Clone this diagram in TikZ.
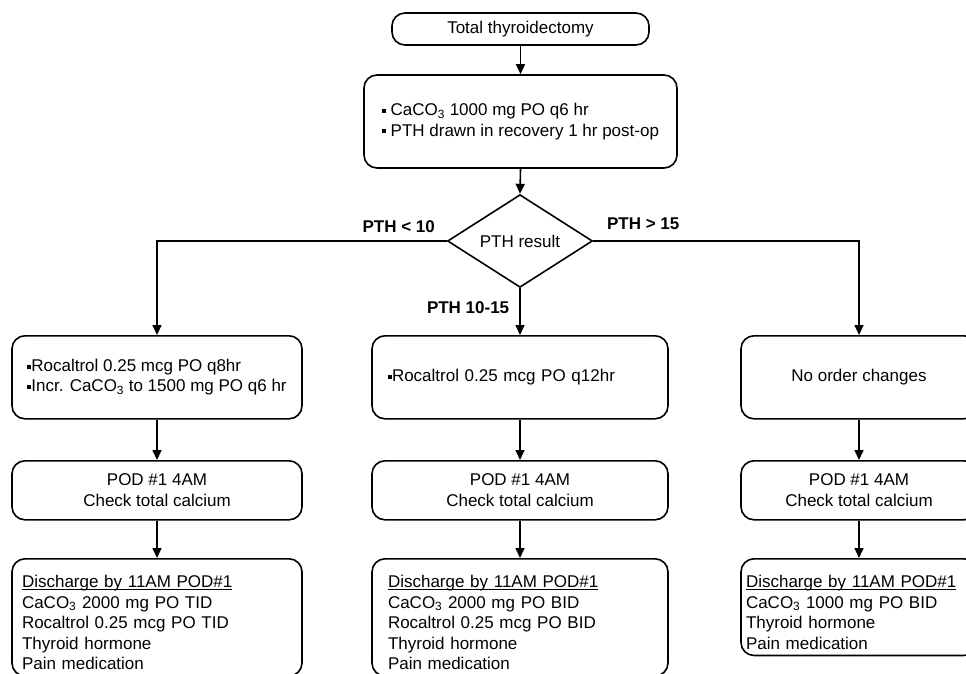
\documentclass[tikz,border=0pt]{standalone}
\usepackage{fontspec}
\setmainfont{Liberation Sans}
\usetikzlibrary{shapes.geometric,arrows.meta,positioning}
\newcommand{\sqbullet}{\raisebox{0.32ex}{\rule{4pt}{4pt}}}
\newcommand{\firstline}{\rule{0pt}{23pt}}
\newsavebox{\ulinebox}
\newcommand{\ulined}[1]{\sbox{\ulinebox}{#1}\rlap{\rule[-2.2pt]{\wd\ulinebox}{1pt}}\usebox{\ulinebox}}
\begin{document}
\begin{tikzpicture}[x=1pt,y=-1pt,line width=1.6pt,>={Triangle[length=10pt,width=9pt]},
flowbox/.style={draw,rectangle,rounded corners=13pt,inner sep=6pt,font=\fontsize{17}{20.5}\selectfont},
listbox/.style={flowbox,anchor=north,align=left,inner ysep=6pt},
decision/.style={draw,diamond,minimum width=145pt,minimum height=82pt,inner sep=0pt,font=\fontsize{17}{20}\selectfont},
branch/.style={inner sep=0pt,font=\bfseries\fontsize{17}{20}\selectfont}]
\useasboundingbox (0,0) rectangle (966,674);
% surgery and first orders
\draw (520.5,29) node[flowbox,minimum width=257pt,minimum height=32pt] (surgery) {Total thyroidectomy};
\draw (520.5,121.5) node[flowbox,minimum width=313pt,minimum height=93pt,align=left] (orders)
  {\sqbullet\ CaCO\textsubscript{3} 1000 mg PO q6 hr\\ \sqbullet\ PTH drawn in recovery 1 hr post-op};
\draw (520,241) node[decision] (result) {PTH result};
% orders after PTH result
\draw (157,335) node[flowbox,anchor=north,minimum width=290pt,minimum height=83pt,align=left] (low)
  {\sqbullet Rocaltrol 0.25 mcg PO q8hr\\ \sqbullet Incr. CaCO\textsubscript{3} to 1500 mg PO q6 hr};
\draw (520,335) node[flowbox,anchor=north,minimum width=296pt,minimum height=83pt,text width=264pt,inner xsep=16pt,align=left] (mid)
  {\sqbullet Rocaltrol 0.25 mcg PO q12hr};
\draw (859,335) node[flowbox,anchor=north,minimum width=236pt,minimum height=83pt] (high) {No order changes};
% POD #1 checks
\draw (157,460) node[flowbox,anchor=north,minimum width=290pt,minimum height=59pt,align=center] (lowpod) {POD \#1 4AM\\Check total calcium};
\draw (520,460) node[flowbox,anchor=north,minimum width=296pt,minimum height=59pt,align=center] (midpod) {POD \#1 4AM\\Check total calcium};
\draw (859,460) node[flowbox,anchor=north,minimum width=236pt,minimum height=59pt,align=center] (highpod) {POD \#1 4AM\\Check total calcium};
% discharge
\draw (157,558) node[listbox,text width=270pt,inner xsep=10pt] (lowdc)
  {\firstline\ulined{Discharge by 11AM POD\#1}\\ CaCO\textsubscript{3} 2000 mg PO TID\\ Rocaltrol 0.25 mcg PO TID\\ Thyroid hormone\\ Pain medication};
\draw (520,558) node[listbox,text width=264pt,inner xsep=16pt] (middc)
  {\firstline\ulined{Discharge by 11AM POD\#1}\\ CaCO\textsubscript{3} 2000 mg PO BID\\ Rocaltrol 0.25 mcg PO BID\\ Thyroid hormone\\ Pain medication};
\draw (859,558) node[listbox,text width=226pt,inner xsep=5pt] (highdc)
  {\firstline\ulined{Discharge by 11AM POD\#1}\\ CaCO\textsubscript{3} 1000 mg PO BID\\ Thyroid hormone\\ Pain medication};
% connectors
\draw[->] (surgery.south) -- (orders.north);
\draw[->] (orders.south) -- (result.north);
\draw[->] (result.west) node[branch,above left=8pt and 11pt] {PTH < 10} -| (low.north);
\draw[->] (result.east) node[branch,above right=11pt and 13pt] {PTH > 15} -| (high.north);
\draw[->] (result.south) node[branch,below left=13pt and 10pt] {PTH 10-15} -- (mid.north);
\foreach \a/\b in {low/lowpod,mid/midpod,high/highpod,lowpod/lowdc,midpod/middc,highpod/highdc}
  \draw[->] (\a.south) -- (\b.north);
\end{tikzpicture}
\end{document}
